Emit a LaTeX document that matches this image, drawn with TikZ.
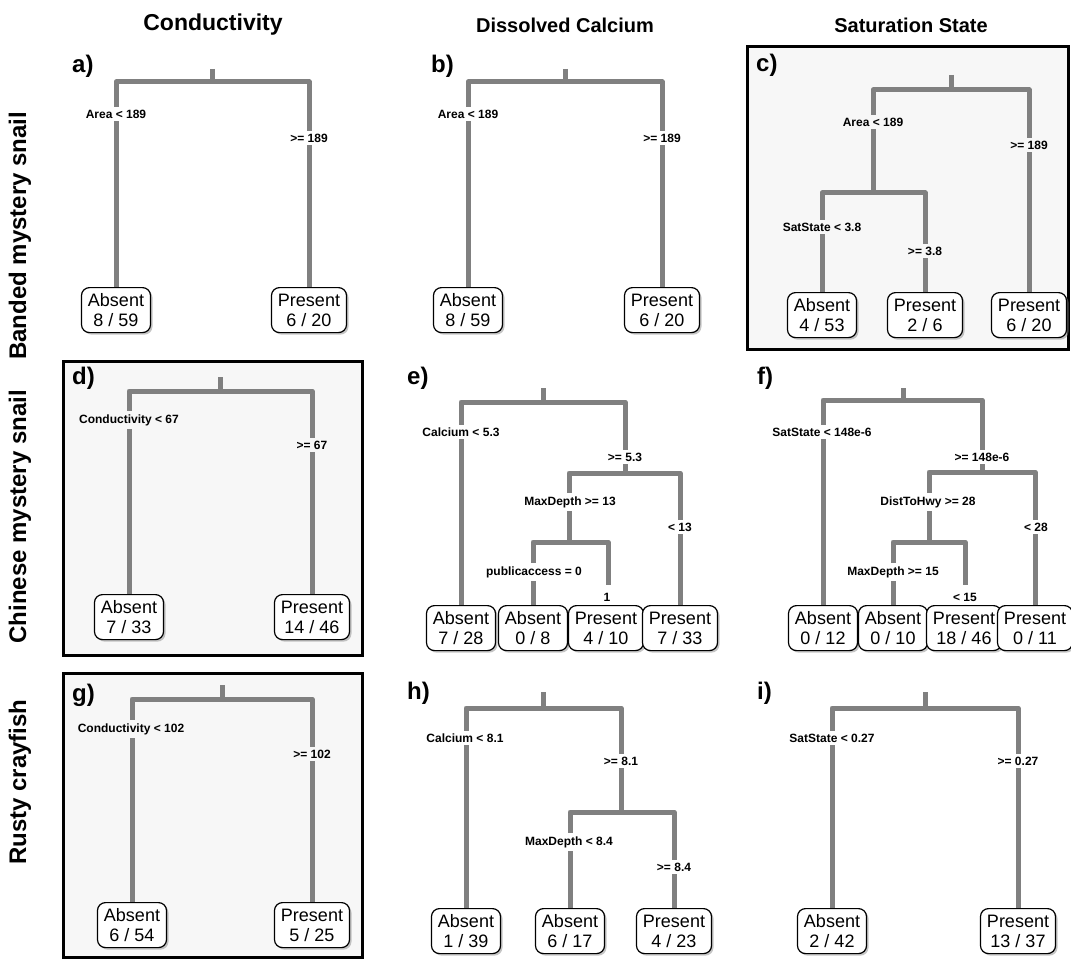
\documentclass[tikz,border=0pt]{standalone}
\usepackage{fontspec}
\setmainfont{Liberation Sans}
\usetikzlibrary{shadows}
\definecolor{branch}{RGB}{128,128,128}
\definecolor{panelbg}{RGB}{247,247,247}
\tikzset{
  br/.style={draw=branch, line width=5pt, line join=round},
  cond/.style={font=\bfseries\fontsize{12}{14}\selectfont, fill=white, inner xsep=2pt, inner ysep=3pt},
  condp/.style={cond, fill=panelbg},
  leaf/.style={draw=black, line width=1.2pt, rounded corners=8pt, fill=white, align=center,
    font=\fontsize{18}{20}\selectfont, inner xsep=6.5pt, inner ysep=2pt, minimum height=45pt, anchor=north,
    drop shadow={shadow xshift=2pt, shadow yshift=-2pt, fill=black!45}},
  plab/.style={font=\bfseries\fontsize{24}{26}\selectfont, anchor=west, inner sep=0pt},
  head/.style={font=\bfseries\fontsize{20}{24}\selectfont, inner sep=0pt},
  rowlab/.style={font=\bfseries\fontsize{24}{26}\selectfont, rotate=90, inner sep=0pt},
  frame/.style={draw=black, line width=3pt, fill=panelbg}
}
\begin{document}
\begin{tikzpicture}[x=1pt,y=-1pt]
\useasboundingbox (0,0) rectangle (1071,960);
% frames
\draw[frame] (747,47) rectangle (1068,349);
\draw[frame] (63,361) rectangle (362,655);
\draw[frame] (63,673) rectangle (362,957);
% headers
\node[head, font=\bfseries\fontsize{23}{26}\selectfont] (h1) at (213,25) {Conductivity};
\node[head] (h2) at (565,25) {Dissolved Calcium};
\node[head] (h3) at (911,25) {Saturation State};
% row labels
\node[rowlab, anchor=west] (r1) at (20,360) {Banded mystery snail};
\node[rowlab, anchor=east] (r2) at (20,390) {Chinese mystery snail};
\node[rowlab] (r3) at (20,782) {Rusty crayfish};

% ---------- panel a ----------
\node[plab] (pa) at (72,66) {a)};
\coordinate (a0) at (212,69); \coordinate (a1) at (212,82);
\node[leaf] (aL1) at (116,287) {Absent\\8 / 59};
\node[leaf] (aL2) at (309,287) {Present\\6 / 20};
\draw[br] (a0) -- (a1);
\draw[br] (a1) -| (aL1.north);
\draw[br] (a1) -| (aL2.north);
\node[cond] at (116,114) {Area < 189};
\node[cond] at (309,138) {>= 189};

% ---------- panel b ----------
\node[plab] (pb) at (431,66) {b)};
\coordinate (b0) at (565,69); \coordinate (b1) at (565,82);
\node[leaf] (bL1) at (468,287) {Absent\\8 / 59};
\node[leaf] (bL2) at (662,287) {Present\\6 / 20};
\draw[br] (b0) -- (b1);
\draw[br] (b1) -| (bL1.north);
\draw[br] (b1) -| (bL2.north);
\node[cond] at (468,114) {Area < 189};
\node[cond] at (662,138) {>= 189};

% ---------- panel c ----------
\node[plab] (pc) at (756,65) {c)};
\coordinate (c0) at (951,75); \coordinate (c1) at (951,90);
\coordinate (c2) at (873,193);
\node[leaf] (cL1) at (822,292) {Absent\\4 / 53};
\node[leaf] (cL2) at (925,292) {Present\\2 / 6};
\node[leaf] (cL3) at (1029,292) {Present\\6 / 20};
\draw[br] (c0) -- (c1);
\draw[br] (c1) -| (c2);
\draw[br] (c1) -| (cL3.north);
\draw[br] (c2) -| (cL1.north);
\draw[br] (c2) -| (cL2.north);
\node[condp] at (873,122) {Area < 189};
\node[condp] at (1029,145) {>= 189};
\node[condp] at (822,227) {SatState < 3.8};
\node[condp] at (925,251) {>= 3.8};

% ---------- panel d ----------
\node[plab] (pd) at (72,378) {d)};
\coordinate (d0) at (220,377); \coordinate (d1) at (220,391);
\node[leaf] (dL1) at (129,594) {Absent\\7 / 33};
\node[leaf] (dL2) at (312,594) {Present\\14 / 46};
\draw[br] (d0) -- (d1);
\draw[br] (d1) -| (dL1.north);
\draw[br] (d1) -| (dL2.north);
\node[condp] at (129,420) {Conductivity < 67};
\node[condp] at (312,445) {>= 67};

% ---------- panel e ----------
\node[plab] (pe) at (407,378) {e)};
\coordinate (e0) at (543,388); \coordinate (e1) at (543,402);
\coordinate (e2) at (625,473);
\coordinate (e3) at (569,542);
\coordinate (e4) at (608,585);
\node[leaf] (eL1) at (461,605) {Absent\\7 / 28};
\node[leaf] (eL2) at (533,605) {Absent\\0 / 8};
\node[leaf] (eL3) at (606,605) {Present\\4 / 10};
\node[leaf] (eL4) at (680,605) {Present\\7 / 33};
\draw[br] (e0) -- (e1);
\draw[br] (e1) -| (eL1.north);
\draw[br] (e1) -| (e2);
\draw[br] (e2) -| (e3);
\draw[br] (e2) -| (eL4.north);
\draw[br] (e3) -| (eL2.north);
\draw[br] (e3) -| (e4);
\node[cond] at (461,432) {Calcium < 5.3};
\node[cond] at (625,457) {>= 5.3};
\node[cond] at (570,502) {MaxDepth >= 13};
\node[cond] at (680,527) {< 13};
\node[cond] at (534,572) {publicaccess = 0};
\node[cond, fill=none] at (607,597) {1};

% ---------- panel f ----------
\node[plab] (pf) at (757,378) {f)};
\coordinate (f0) at (903,388); \coordinate (f1) at (903,400);
\coordinate (f2) at (982,472);
\coordinate (f3) at (929,542);
\coordinate (f4) at (965,585);
\node[leaf] (fL1) at (823,605) {Absent\\0 / 12};
\node[leaf] (fL2) at (893,605) {Absent\\0 / 10};
\node[leaf] (fL3) at (964,605) {Present\\18 / 46};
\node[leaf] (fL4) at (1035,605) {Present\\0 / 11};
\draw[br] (f0) -- (f1);
\draw[br] (f1) -| (fL1.north);
\draw[br] (f1) -| (f2);
\draw[br] (f2) -| (f3);
\draw[br] (f2) -| (fL4.north);
\draw[br] (f3) -| (fL2.north);
\draw[br] (f3) -| (f4);
\node[cond] at (822,432) {SatState < 148e-6};
\node[cond] at (982,457) {>= 148e-6};
\node[cond] at (928,502) {DistToHwy >= 28};
\node[cond] at (1036,527) {< 28};
\node[cond] at (893,572) {MaxDepth >= 15};
\node[cond, fill=none] at (965,597) {< 15};

% ---------- panel g ----------
\node[plab] (pg) at (72,695) {g)};
\coordinate (g0) at (222,685); \coordinate (g1) at (222,699);
\node[leaf] (gL1) at (132,902) {Absent\\6 / 54};
\node[leaf] (gL2) at (312,902) {Present\\5 / 25};
\draw[br] (g0) -- (g1);
\draw[br] (g1) -| (gL1.north);
\draw[br] (g1) -| (gL2.north);
\node[condp] at (131,729) {Conductivity < 102};
\node[condp] at (312,754) {>= 102};

% ---------- panel h ----------
\node[plab] (ph) at (407,693) {h)};
\coordinate (h0) at (543,692); \coordinate (h1) at (543,708);
\coordinate (h2) at (621,812);
\node[leaf] (hL1) at (466,908) {Absent\\1 / 39};
\node[leaf] (hL2) at (570,908) {Absent\\6 / 17};
\node[leaf] (hL3) at (674,908) {Present\\4 / 23};
\draw[br] (h0) -- (h1);
\draw[br] (h1) -| (hL1.north);
\draw[br] (h1) -| (h2);
\draw[br] (h2) -| (hL2.north);
\draw[br] (h2) -| (hL3.north);
\node[cond] at (465,738) {Calcium < 8.1};
\node[cond] at (621,761) {>= 8.1};
\node[cond] at (569,842) {MaxDepth < 8.4};
\node[cond] at (674,867) {>= 8.4};

% ---------- panel i ----------
\node[plab] (pi) at (757,693) {i)};
\coordinate (i0) at (925,692); \coordinate (i1) at (925,708);
\node[leaf] (iL1) at (832,908) {Absent\\2 / 42};
\node[leaf] (iL2) at (1018,908) {Present\\13 / 37};
\draw[br] (i0) -- (i1);
\draw[br] (i1) -| (iL1.north);
\draw[br] (i1) -| (iL2.north);
\node[cond] at (832,738) {SatState < 0.27};
\node[cond] at (1018,761) {>= 0.27};
\end{tikzpicture}
\end{document}
